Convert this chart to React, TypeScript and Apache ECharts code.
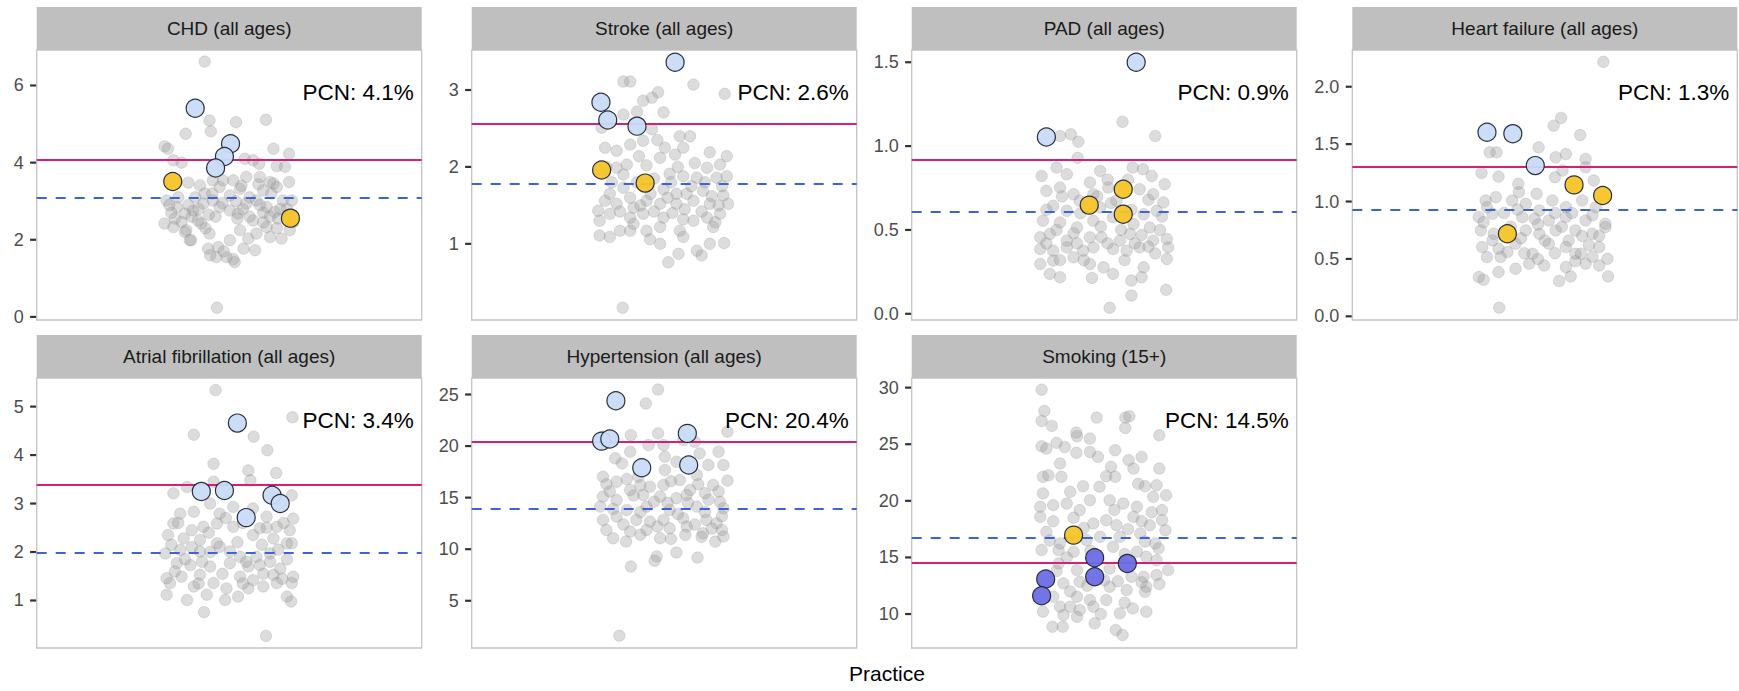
import React, { useEffect, useRef } from "react";
import * as echarts from "echarts";

// ---------- data ----------
const panelTitles = [
  "CHD (all ages)",
  "Stroke (all ages)",
  "PAD (all ages)",
  "Heart failure (all ages)",
  "Atrial fibrillation (all ages)",
  "Hypertension (all ages)",
  "Smoking (15+)",
];
const pcnRates = [4.08, 2.56, 0.917, 1.299, 3.38, 20.42, 14.5];
const nationalRates = [3.08, 1.78, 0.606, 0.933, 1.99, 13.94, 16.76];
const yMin = [-0.08, 0.01, -0.037, -0.032, 0.02, 0.42, 7.0];
const yMax = [6.92, 3.52, 1.573, 2.32, 5.59, 26.6, 30.85];
const yTickValues = [
  [0, 2, 4, 6],
  [1, 2, 3],
  [0, 0.5, 1, 1.5],
  [0, 0.5, 1, 1.5, 2],
  [1, 2, 3, 4, 5],
  [5, 10, 15, 20, 25],
  [10, 15, 20, 25, 30],
];
const yTickDecimals = [0, 0, 1, 1, 0, 0, 0];
const xAxisTitle = "Practice";

// practices: [jitter, prevalence %]
const chdGrey = [
  [-0.36, 6.62], [-0.18, 0.24], [-0.29, 5.09], [0.1, 5.05], [0.54, 5.11], [-0.64, 4.75], [-0.27, 4.81],
  [-0.95, 4.42], [-0.9, 4.36], [0.65, 4.36], [0.88, 4.23], [-0.82, 4.06], [-0.7, 4.0], [0.23, 4.1],
  [0.35, 4.06], [0.44, 3.97], [0.7, 3.91], [0.82, 3.89], [0.88, 3.5], [-0.6, 3.48], [-0.43, 3.41],
  [-0.36, 3.2], [0.16, 3.32], [0.43, 3.44], [0.6, 3.5], [0.7, 3.37], [-0.92, 3.02], [-0.77, 2.85],
  [-0.65, 2.68], [-0.53, 2.76], [-0.38, 2.94], [-0.24, 3.02], [-0.14, 2.85], [0.01, 2.76], [0.13, 2.68],
  [0.25, 2.94], [0.4, 3.02], [0.55, 2.85], [0.67, 2.72], [0.79, 3.02], [0.92, 3.02], [-0.95, 2.42],
  [-0.82, 2.33], [-0.7, 2.46], [-0.63, 2.25], [-0.56, 1.99], [-0.41, 2.42], [-0.29, 2.16], [-0.31, 1.77],
  [-0.16, 1.81], [-0.19, 1.55], [-0.04, 1.55], [0.08, 1.42], [0.01, 1.99], [0.16, 2.25], [0.21, 1.77],
  [0.38, 1.73], [0.28, 2.03], [0.4, 2.16], [0.55, 2.33], [0.6, 2.07], [0.77, 2.03], [0.89, 2.25],
  [0.94, 2.46], [0.35, 2.5], [-0.14, 3.37], [0.06, 3.54], [-0.24, 3.54], [0.25, 3.63], [0.5, 3.28],
  [0.01, 3.15], [-0.46, 2.5], [-0.5, 3.1], [0.3, 2.6], [0.72, 2.55], [-0.85, 2.7], [0.1, 3.0],
  [-0.3, 2.65], [0.5, 2.7], [-0.6, 2.9], [0.85, 2.8],
  [-0.88, 2.9], [-0.75, 3.1], [-0.55, 2.6], [-0.45, 2.8], [-0.2, 2.6], [-0.1, 2.95], [0.2, 2.8],
  [0.3, 3.1], [0.45, 2.9], [0.6, 2.6], [0.75, 2.8], [0.88, 2.6], [-0.65, 2.2], [-0.35, 2.3],
  [0.12, 2.55], [0.5, 2.45], [0.7, 2.3], [-0.8, 2.55], [-0.25, 3.2], [0.18, 3.4], [0.62, 3.2],
  [-0.08, 1.7], [0.06, 1.5], [-0.28, 1.6], [-0.09, 3.54], [0.45, 3.63], [0.65, 3.46], [-0.58, 1.99],
];
const strokeGrey = [
  [-0.61, 0.17], [-0.6, 3.11], [-0.5, 3.11], [0.43, 3.07], [0.89, 2.95], [-0.09, 2.97], [-0.18, 2.9],
  [-0.31, 2.86], [-0.01, 2.71], [-0.4, 2.72], [-0.6, 2.68], [-0.92, 2.51], [-0.18, 2.49], [0.23, 2.4],
  [0.38, 2.4], [-0.31, 2.34], [-0.5, 2.29], [-0.87, 2.25], [-0.7, 2.21], [0.01, 2.25], [0.16, 2.16],
  [-0.06, 2.12], [0.28, 2.25], [0.67, 2.19], [0.92, 2.14], [0.82, 2.03], [0.63, 1.99], [-0.37, 2.14],
  [-0.55, 2.03], [-0.7, 1.99], [-0.26, 2.02], [0.08, 1.91], [0.28, 1.88], [0.48, 1.86], [0.77, 1.86],
  [0.92, 1.88], [-0.77, 1.8], [-0.6, 1.73], [-0.01, 1.71], [0.18, 1.65], [0.33, 1.65], [0.57, 1.69],
  [0.87, 1.63], [-0.87, 1.56], [-0.7, 1.52], [-0.45, 1.47], [-0.26, 1.56], [-0.06, 1.52], [0.18, 1.52],
  [0.43, 1.56], [0.67, 1.52], [0.94, 1.52], [-0.97, 1.43], [-0.8, 1.39], [-0.5, 1.34], [-0.31, 1.39],
  [-0.01, 1.34], [0.28, 1.32], [0.43, 1.3], [0.63, 1.34], [0.82, 1.39], [0.72, 1.22], [-0.95, 1.3],
  [-0.65, 1.17], [-0.45, 1.26], [-0.26, 1.17], [-0.06, 1.22], [0.23, 1.17], [-0.95, 1.11], [-0.8, 1.09],
  [-0.21, 1.06], [-0.06, 1.0], [0.28, 1.09], [0.67, 1.0], [0.88, 1.01], [0.48, 0.91], [0.21, 0.87],
  [0.55, 0.85], [0.06, 0.76], [-0.5, 1.17],
  [-0.85, 2.0], [-0.6, 1.9], [-0.4, 1.8], [-0.15, 1.85], [0.1, 1.8], [0.4, 1.75], [0.6, 1.8],
  [0.85, 1.75], [-0.8, 1.65], [-0.5, 1.6], [-0.2, 1.65], [0.05, 1.6], [0.3, 1.45], [0.55, 1.42],
  [0.8, 1.5], [-0.65, 1.42], [-0.15, 1.42], [0.12, 1.4], [0.75, 1.28], [-0.35, 1.5], [0.45, 2.05],
  [0.2, 2.0], [-0.1, 2.35], [0.7, 1.62],
];
const padGrey = [
  [0.08, 0.036], [0.27, 1.145], [0.75, 1.06], [-0.65, 1.06], [-0.49, 1.07], [-0.38, 1.026], [-0.39, 0.93],
  [-0.7, 0.872], [-0.92, 0.822], [-0.55, 0.832], [-0.06, 0.852], [0.42, 0.872], [0.57, 0.862], [0.7, 0.822],
  [0.89, 0.773], [-0.85, 0.733], [-0.65, 0.753], [-0.45, 0.713], [-0.21, 0.783], [0.06, 0.753], [0.52, 0.743],
  [0.72, 0.713], [0.87, 0.664], [-0.75, 0.644], [-0.55, 0.614], [-0.36, 0.674], [-0.06, 0.634], [0.58, 0.594],
  [0.77, 0.614], [-0.9, 0.555], [-0.65, 0.545], [-0.4, 0.515], [-0.16, 0.555], [0.13, 0.575], [0.43, 0.535],
  [0.67, 0.515], [-0.94, 0.456], [-0.8, 0.476], [-0.55, 0.436], [-0.21, 0.456], [-0.04, 0.456], [0.23, 0.436],
  [0.38, 0.476], [0.72, 0.436], [0.92, 0.446], [-0.94, 0.386], [-0.75, 0.376], [-0.55, 0.396], [-0.31, 0.376],
  [-0.16, 0.396], [0.13, 0.386], [0.33, 0.376], [0.52, 0.396], [0.94, 0.396], [-0.94, 0.297], [-0.75, 0.317],
  [-0.45, 0.337], [-0.21, 0.297], [-0.01, 0.277], [0.13, 0.238], [0.58, 0.277], [0.92, 0.327], [-0.8, 0.238],
  [-0.65, 0.218], [-0.18, 0.214], [0.4, 0.198], [0.55, 0.218], [0.4, 0.109], [0.91, 0.143], [-0.16, 0.713],
  [0.18, 0.674],
  [-0.85, 0.62], [-0.62, 0.7], [-0.35, 0.6], [-0.1, 0.7], [0.1, 0.66], [0.4, 0.62], [0.65, 0.68],
  [0.85, 0.58], [-0.7, 0.5], [-0.45, 0.48], [-0.05, 0.52], [0.25, 0.5], [0.55, 0.47], [0.82, 0.5],
  [-0.85, 0.42], [-0.4, 0.42], [0.05, 0.42], [0.45, 0.42], [0.65, 0.4], [-0.65, 0.32], [-0.3, 0.32],
  [0.3, 0.32], [0.75, 0.36], [0.05, 0.8], [0.35, 0.8],
];
const hfGrey = [
  [0.86, 2.217], [-0.67, 0.075], [0.24, 1.728], [0.13, 1.661], [0.52, 1.58], [-0.81, 1.429], [-0.71, 1.429],
  [-0.09, 1.472], [0.31, 1.414], [0.16, 1.386], [0.6, 1.371], [0.6, 1.299], [-0.93, 1.249], [-0.68, 1.217],
  [0.15, 1.212], [0.26, 1.27], [0.72, 1.183], [-0.39, 1.154], [-0.12, 1.067], [-0.38, 1.081], [0.11, 1.009],
  [0.31, 0.951], [-0.87, 1.009], [-0.72, 1.038], [-0.48, 1.009], [-0.28, 0.98], [-0.08, 0.922], [0.55, 1.009],
  [0.75, 0.951], [-0.97, 0.864], [-0.77, 0.893], [-0.33, 0.864], [0.06, 0.835], [0.31, 0.864], [0.6, 0.835],
  [0.89, 0.806], [-0.94, 0.748], [-0.77, 0.661], [-0.28, 0.748], [-0.08, 0.719], [0.16, 0.748], [0.45, 0.748],
  [0.7, 0.719], [0.89, 0.777], [-0.92, 0.603], [-0.68, 0.588], [-0.43, 0.632], [-0.18, 0.545], [0.06, 0.632],
  [0.31, 0.603], [0.53, 0.545], [0.8, 0.603], [-0.85, 0.516], [-0.65, 0.516], [-0.23, 0.458], [-0.01, 0.443],
  [0.31, 0.429], [0.6, 0.458], [0.8, 0.443], [0.92, 0.501], [-0.43, 0.414], [-0.68, 0.386], [-0.97, 0.342],
  [-0.9, 0.319], [0.38, 0.348], [0.93, 0.348], [0.21, 0.307], [0.45, 0.545],
  [-0.85, 0.95], [-0.6, 0.9], [-0.4, 0.93], [-0.15, 0.85], [0.15, 0.9], [0.4, 0.9], [0.7, 0.88],
  [-0.9, 0.82], [-0.5, 0.78], [-0.1, 0.8], [0.25, 0.78], [0.55, 0.7], [0.8, 0.7], [-0.75, 0.72],
  [-0.35, 0.68], [0.0, 0.66], [0.35, 0.66], [0.65, 0.62], [-0.55, 0.56], [-0.3, 0.55], [0.15, 0.55],
  [0.7, 0.52], [-0.1, 0.5], [0.45, 0.48],
];
const afGrey = [
  [-0.2, 5.34], [0.54, 0.27], [0.93, 4.78], [-0.52, 4.42], [0.36, 4.38], [0.56, 4.1], [-0.23, 3.82],
  [0.28, 3.68], [0.69, 3.63], [0.31, 3.48], [-0.62, 3.34], [-0.23, 3.45], [-0.82, 3.21], [0.92, 3.17],
  [-0.28, 3.0], [0.06, 2.93], [0.35, 2.9], [-0.72, 2.79], [-0.52, 2.83], [-0.14, 2.79], [0.55, 2.73],
  [0.94, 2.69], [-0.82, 2.59], [-0.38, 2.52], [-0.18, 2.59], [0.06, 2.52], [0.45, 2.49], [0.7, 2.52],
  [0.89, 2.45], [-0.9, 2.35], [-0.67, 2.28], [-0.43, 2.25], [-0.18, 2.18], [0.35, 2.35], [0.65, 2.28],
  [0.85, 2.18], [-0.94, 1.97], [-0.72, 2.04], [-0.43, 2.01], [-0.14, 2.11], [0.01, 2.01], [0.16, 1.9],
  [0.4, 1.9], [0.6, 1.97], [0.92, 2.18], [-0.77, 1.77], [-0.57, 1.73], [-0.28, 1.7], [0.01, 1.77],
  [0.28, 1.7], [0.45, 1.73], [0.75, 1.66], [-0.92, 1.46], [-0.7, 1.49], [-0.43, 1.53], [-0.23, 1.36],
  [0.16, 1.49], [0.35, 1.42], [0.65, 1.53], [0.94, 1.49], [-0.87, 1.36], [-0.52, 1.29], [-0.04, 1.25],
  [0.28, 1.25], [0.5, 1.29], [0.7, 1.36], [0.92, 1.36], [-0.92, 1.12], [-0.62, 1.01], [-0.33, 1.12],
  [-0.06, 1.01], [0.13, 1.08], [0.85, 1.08], [0.91, 0.98], [-0.37, 0.76],
  [-0.75, 2.6], [-0.55, 2.45], [-0.3, 2.4], [-0.05, 2.7], [0.2, 2.6], [0.55, 2.5], [0.8, 2.6],
  [-0.85, 2.15], [-0.55, 2.1], [-0.28, 2.0], [0.12, 2.2], [0.48, 2.15], [0.72, 2.05], [-0.65, 1.85],
  [-0.4, 1.8], [0.25, 1.8], [0.6, 1.8], [0.85, 1.85], [-0.8, 1.6], [-0.1, 1.55], [0.5, 1.55],
  [0.78, 1.45], [0.2, 1.35], [-0.45, 1.35],
];
const htnGrey = [
  [-0.66, 1.61], [-0.09, 25.48], [-0.27, 24.13], [0.93, 21.39], [-0.49, 21.06], [-0.09, 21.23], [-0.23, 20.1],
  [-0.01, 20.1], [0.28, 20.58], [0.45, 20.42], [-0.9, 20.9], [-0.5, 19.45], [0.01, 18.97], [0.52, 19.29],
  [0.8, 19.45], [-0.72, 18.81], [-0.62, 18.32], [0.18, 18.48], [0.65, 18.16], [0.87, 18.16], [0.01, 17.68],
  [-0.38, 17.03], [-0.9, 17.03], [-0.7, 16.55], [0.23, 16.71], [0.48, 17.19], [0.93, 16.65], [0.72, 16.23],
  [-0.5, 15.74], [-0.21, 16.06], [-0.01, 16.23], [0.38, 15.74], [0.6, 15.42], [-0.9, 15.1], [-0.7, 14.77],
  [-0.31, 15.26], [-0.06, 15.1], [0.18, 14.94], [0.33, 15.26], [0.82, 14.61], [-0.94, 14.13], [-0.55, 13.81],
  [-0.26, 14.13], [0.08, 13.81], [0.48, 14.13], [0.87, 13.97], [-0.9, 12.84], [-0.7, 13.16], [-0.41, 12.84],
  [-0.21, 12.68], [-0.01, 12.84], [0.28, 13.0], [0.62, 12.84], [0.77, 12.52], [-0.85, 11.87], [-0.5, 11.71],
  [-0.26, 11.87], [0.08, 12.03], [0.33, 12.19], [0.57, 11.55], [0.85, 11.87], [-0.75, 11.06], [-0.56, 10.74],
  [-0.06, 11.06], [0.31, 11.39], [0.75, 10.74], [0.87, 11.23], [0.18, 9.68], [0.49, 9.19], [-0.11, 9.29],
  [-0.14, 8.87], [-0.49, 8.32],
  [-0.85, 16.3], [-0.55, 16.8], [-0.35, 16.2], [0.1, 16.6], [0.5, 16.3], [0.8, 15.6], [-0.8, 15.6],
  [-0.45, 15.2], [-0.15, 14.6], [0.05, 14.5], [0.35, 14.5], [0.65, 14.8], [-0.75, 13.9], [-0.35, 13.6],
  [0.2, 13.4], [0.6, 13.6], [0.85, 13.2], [-0.6, 12.4], [-0.1, 12.2], [0.45, 12.4], [0.7, 12.0],
  [-0.35, 11.4], [0.1, 11.0], [0.55, 11.2],
];
const smokingGrey = [
  [-0.92, 29.82], [-0.88, 27.94], [-0.92, 27.06], [-0.77, 26.62], [-0.11, 27.35], [0.31, 27.35], [0.37, 27.47],
  [0.31, 26.44], [0.81, 25.79], [-0.41, 26.03], [-0.4, 25.71], [-0.92, 24.82], [-0.85, 24.62], [-0.7, 25.12],
  [-0.58, 24.76], [-0.41, 24.24], [-0.21, 25.5], [-0.21, 24.32], [-0.09, 23.88], [0.16, 24.47], [0.36, 23.59],
  [0.55, 23.88], [0.43, 22.85], [0.81, 22.85], [-0.65, 23.29], [-0.9, 22.12], [-0.82, 22.26], [-0.63, 22.12],
  [0.03, 22.18], [0.16, 22.12], [-0.31, 21.29], [-0.07, 21.24], [0.6, 21.29], [0.77, 21.38], [-0.9, 20.65],
  [-0.75, 19.62], [-0.55, 19.76], [-0.94, 19.47], [-0.94, 18.59], [-0.21, 20.06], [0.08, 20.06], [0.28, 19.76],
  [0.48, 19.47], [0.72, 20.35], [0.91, 20.5], [0.85, 19.18], [-0.36, 19.18], [-0.16, 18.0], [0.03, 18.29],
  [0.18, 17.85], [0.43, 18.59], [0.67, 17.85], [0.85, 18.29], [0.9, 17.41], [-0.85, 17.26], [-0.65, 16.24],
  [-0.26, 16.53], [-0.06, 16.82], [0.23, 16.82], [0.53, 17.12], [0.75, 16.24], [-0.92, 15.65], [-0.67, 15.65],
  [-0.45, 15.5], [0.13, 15.94], [0.48, 15.5], [0.62, 15.06], [0.77, 14.76], [0.94, 13.88], [-0.67, 14.47],
  [-0.4, 13.88], [0.08, 14.03], [0.58, 13.29], [0.77, 13.44], [-0.6, 12.71], [-0.36, 12.85], [0.08, 12.41],
  [0.33, 12.12], [0.62, 12.41], [0.81, 12.65], [-0.75, 11.53], [-0.4, 11.53], [-0.21, 11.24], [0.03, 11.24],
  [0.6, 11.97], [-0.65, 10.65], [-0.5, 10.65], [-0.36, 10.35], [-0.16, 10.65], [0.42, 10.5], [0.62, 10.21],
  [-0.9, 10.21], [-0.6, 9.91], [-0.4, 9.76], [0.23, 10.06], [-0.14, 9.18], [-0.76, 8.88], [-0.61, 8.88],
  [0.17, 8.59], [0.27, 8.15],
  [-0.75, 18.2], [-0.45, 18.5], [0.15, 19.2], [0.55, 18.2], [0.7, 19.0], [-0.8, 16.5], [-0.3, 17.6],
  [0.35, 17.5], [0.6, 16.4], [-0.55, 15.0], [-0.2, 15.6], [0.3, 15.3], [0.8, 15.8], [-0.7, 13.8],
  [0.0, 13.0], [0.4, 13.3], [-0.25, 12.5], [0.2, 12.9], [0.55, 12.8], [-0.5, 12.0], [0.3, 11.0],
  [-0.05, 10.0], [0.5, 21.5], [-0.5, 20.8], [0.1, 23.0],
];

// highlighted practices: [jitter, prevalence %, group]
const chdHighlight = [
  [-0.5, 5.41, "higher"], [0.02, 4.49, "higher"], [-0.07, 4.16, "higher"], [-0.2, 3.86, "higher"],
  [-0.83, 3.51, "similar"], [0.9, 2.56, "similar"],
];
const strokeHighlight = [
  [0.16, 3.36, "higher"], [-0.93, 2.84, "higher"], [-0.83, 2.61, "higher"], [-0.4, 2.53, "higher"],
  [-0.92, 1.96, "similar"], [-0.28, 1.79, "similar"],
];
const padHighlight = [
  [0.47, 1.5, "higher"], [-0.85, 1.054, "higher"], [-0.22, 0.648, "similar"], [0.28, 0.743, "similar"],
  [0.28, 0.594, "similar"],
];
const hfHighlight = [
  [-0.85, 1.603, "higher"], [-0.47, 1.591, "higher"], [-0.14, 1.313, "higher"], [0.43, 1.145, "similar"],
  [0.85, 1.052, "similar"], [-0.55, 0.719, "similar"],
];
const afHighlight = [
  [0.12, 4.66, "higher"], [-0.41, 3.25, "higher"], [-0.07, 3.27, "higher"], [0.63, 3.17, "higher"],
  [0.75, 3.0, "higher"], [0.25, 2.71, "higher"],
];
const htnHighlight = [
  [-0.71, 24.39, "higher"], [-0.92, 20.48, "higher"], [-0.8, 20.68, "higher"], [0.34, 21.23, "higher"],
  [-0.33, 17.9, "higher"], [0.36, 18.16, "higher"],
];
const smokingHighlight = [
  [-0.45, 16.97, "similar"], [-0.86, 13.09, "lower"], [-0.92, 11.62, "lower"], [-0.14, 14.97, "lower"],
  [-0.14, 13.29, "lower"], [0.34, 14.47, "lower"],
];

const greyPanels = [chdGrey, strokeGrey, padGrey, hfGrey, afGrey, htnGrey, smokingGrey];
const highlightPanels = [
  chdHighlight, strokeHighlight, padHighlight, hfHighlight, afHighlight, htnHighlight, smokingHighlight,
];

// ---------- styling / layout ----------
const FONT = '"Liberation Sans", Arial, Helvetica, sans-serif';
const groupColors: Record<string, string> = {
  higher: "#c9dbf7",
  similar: "#f7c328",
  lower: "#6d6de6",
};
const colLeft = [36.7, 471.7, 911.7, 1352.3];
const rowTop = [50, 378];
const panelW = 385;
const panelH = 270;
const stripH = 43;
const jitterRange = 2.83;
const borderColor = "#c4c4c4";
const tickLen = 6;

function tickPixelY(chart: any, i: number, v: number): number {
  let py: any = undefined;
  try {
    py = chart.convertToPixel({ yAxisIndex: i }, v);
  } catch (e) {
    py = undefined;
  }
  if (Array.isArray(py)) py = py[1];
  if (typeof py !== "number" || !isFinite(py)) {
    const top = rowTop[Math.floor(i / 4)];
    py = top + ((yMax[i] - v) / (yMax[i] - yMin[i])) * panelH;
  }
  return py;
}

function buildGraphics(chart?: any) {
  const graphics: any[] = [];
  panelTitles.forEach((title, i) => {
    const left = colLeft[i % 4];
    const top = rowTop[Math.floor(i / 4)];
    graphics.push({
      type: "rect",
      id: `strip${i}`,
      shape: { x: left, y: top - stripH, width: panelW, height: stripH },
      style: { fill: "#bfbfbf" },
      silent: true,
    });
    graphics.push({
      type: "text",
      id: `stripText${i}`,
      x: left + panelW / 2,
      y: top - stripH / 2,
      style: {
        text: title,
        fill: "#1a1a1a",
        fontSize: 19,
        fontFamily: FONT,
        align: "center",
        verticalAlign: "middle",
        textAlign: "center",
        textVerticalAlign: "middle",
      },
      silent: true,
    });
    graphics.push({
      type: "text",
      id: `pcn${i}`,
      x: left + panelW - 8,
      y: top + 42,
      z: 20,
      style: {
        text: `PCN: ${pcnRates[i].toFixed(1)}%`,
        fill: "#000000",
        fontSize: 22.5,
        fontFamily: FONT,
        align: "right",
        verticalAlign: "middle",
        textAlign: "right",
        textVerticalAlign: "middle",
      },
      silent: true,
    });
    if (chart) {
      yTickValues[i].forEach((v, k) => {
        const py = tickPixelY(chart, i, v);
        graphics.push({
          type: "line",
          id: `tick${i}_${k}`,
          shape: { x1: left - tickLen - 0.6, y1: py, x2: left - 0.6, y2: py },
          style: { stroke: "#333333", lineWidth: 2.2 },
          silent: true,
          z: 40,
        });
      });
    }
  });
  graphics.push({
    type: "text",
    id: "xTitle",
    x: (colLeft[0] + colLeft[3] + panelW) / 2,
    y: 673,
    style: {
      text: xAxisTitle,
      fill: "#000000",
      fontSize: 21,
      fontFamily: FONT,
      align: "center",
      verticalAlign: "middle",
      textAlign: "center",
      textVerticalAlign: "middle",
    },
    silent: true,
  });
  return graphics;
}

function buildOption() {
  const grids: any[] = [];
  const xAxes: any[] = [];
  const yAxes: any[] = [];
  const series: any[] = [];

  panelTitles.forEach((_title, i) => {
    const left = colLeft[i % 4];
    const top = rowTop[Math.floor(i / 4)];
    grids.push({
      left,
      top,
      width: panelW,
      height: panelH,
      show: true,
      borderColor,
      borderWidth: 1.3,
      backgroundColor: "#ffffff",
      containLabel: false,
      outerBoundsMode: "none",
    });
    xAxes.push({
      type: "value",
      gridIndex: i,
      min: -jitterRange,
      max: jitterRange,
      show: false,
      splitLine: { show: false },
      axisLine: { onZero: false },
    });
    const dec = yTickDecimals[i];
    yAxes.push({
      type: "value",
      gridIndex: i,
      position: "left",
      min: yMin[i],
      max: yMax[i],
      splitLine: { show: false },
      axisLine: { show: false, onZero: false },
      axisTick: { show: false },
      axisLabel: {
        show: true,
        customValues: yTickValues[i],
        color: "#4d4d4d",
        fontSize: 18,
        fontFamily: FONT,
        margin: 13,
        formatter: (v: number) => Number(v).toFixed(dec),
      },
    });

    series.push({
      type: "scatter",
      xAxisIndex: i,
      yAxisIndex: i,
      data: greyPanels[i],
      symbolSize: 11.5,
      silent: true,
      z: 2,
      itemStyle: {
        color: "rgba(150,150,150,0.42)",
        borderColor: "rgba(120,120,120,0.25)",
        borderWidth: 1,
      },
      markLine: {
        silent: true,
        symbol: ["none", "none"],
        label: { show: false },
        z: 5,
        data: [
          { yAxis: pcnRates[i], lineStyle: { color: "#d5207a", width: 2.2, type: "solid" } },
          { yAxis: nationalRates[i], lineStyle: { color: "#3b64d8", width: 2.2, type: [10, 9] } },
        ],
      },
    });
    series.push({
      type: "scatter",
      xAxisIndex: i,
      yAxisIndex: i,
      symbolSize: 18,
      silent: true,
      z: 10,
      data: (highlightPanels[i] as any[]).map((p) => ({
        value: [p[0], p[1]],
        itemStyle: { color: groupColors[p[2]] },
      })),
      itemStyle: { borderColor: "#1c2535", borderWidth: 1.2, opacity: 0.95 },
    });
  });

  return {
    animation: false,
    backgroundColor: "#ffffff",
    textStyle: { fontFamily: FONT },
    grid: grids,
    xAxis: xAxes,
    yAxis: yAxes,
    series,
    graphic: buildGraphics(),
  };
}

export default function App() {
  const ref = useRef<HTMLDivElement>(null);
  useEffect(() => {
    if (!ref.current) return;
    const chart = echarts.init(ref.current, null, { renderer: "svg" });
    chart.setOption(buildOption() as any);
    chart.setOption({ graphic: buildGraphics(chart) } as any);
    return () => chart.dispose();
  }, []);
  return (
    <div
      ref={ref}
      style={{ position: "absolute", left: 0, top: 0, width: 1739, height: 691, background: "#fff" }}
    />
  );
}
